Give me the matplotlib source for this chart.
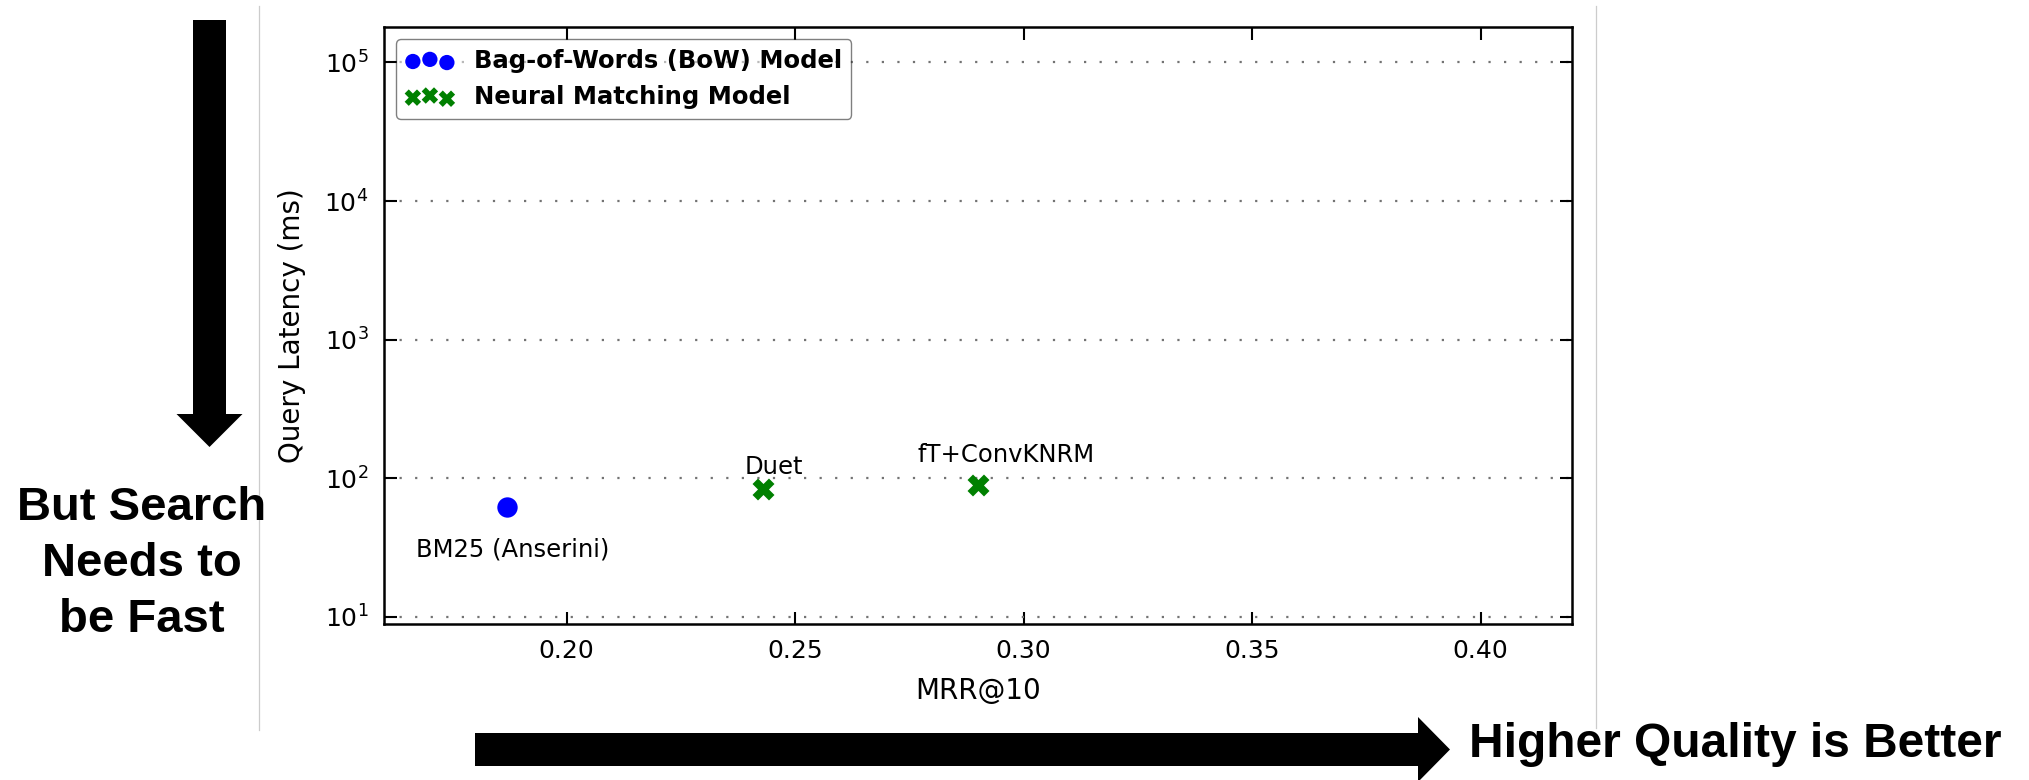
import matplotlib
matplotlib.use("Agg")
import matplotlib.pyplot as plt
from matplotlib.patches import FancyArrow
from matplotlib.ticker import NullLocator

# === Data ===
bow_label = "Bag-of-Words (BoW) Model"
bow_names = ["BM25 (Anserini)"]
bow_mrr = [0.187]
bow_latency = [62]

neural_label = "Neural Matching Model"
neural_names = ["Duet", "fT+ConvKNRM"]
neural_mrr = [0.243, 0.290]
neural_latency = [84, 90]

x_ticks = [0.20, 0.25, 0.30, 0.35, 0.40]
y_ticks = [1e1, 1e2, 1e3, 1e4, 1e5]

# label offsets (points) relative to each marker
bow_offsets = [((4, -22), "center", "top")]
neural_offsets = [((8, 11), "center", "baseline"), ((20, 16.5), "center", "baseline")]

# === Figure ===
W, H = 2029, 780
fig = plt.figure(figsize=(W / 100, H / 100), dpi=100)
ax = fig.add_axes([383.7 / W, 1 - 624 / H, (1572 - 383.7) / W, (624 - 27) / H])

ax.scatter(bow_mrr, bow_latency, s=215, c="b", marker="o", linewidths=0,
           label=bow_label, zorder=3)
ax.scatter(neural_mrr, neural_latency, s=250, c="g", marker="X", linewidths=0,
           label=neural_label, zorder=3)

for name, x, y, (off, ha, va) in zip(bow_names, bow_mrr, bow_latency, bow_offsets):
    ax.annotate(name, (x, y), xytext=off, textcoords="offset points",
                ha=ha, va=va, fontsize=17.5)
for name, x, y, (off, ha, va) in zip(neural_names, neural_mrr, neural_latency, neural_offsets):
    ax.annotate(name, (x, y), xytext=off, textcoords="offset points",
                ha=ha, va=va, fontsize=17.5)

ax.set_yscale("log")
ax.set_xlim(0.16, 0.42)
ax.set_ylim(8.9, 1.8e5)
ax.set_xticks(x_ticks)
ax.set_xticklabels([f"{t:.2f}" for t in x_ticks])
ax.set_yticks(y_ticks)
ax.yaxis.set_minor_locator(NullLocator())
ax.xaxis.set_minor_locator(NullLocator())

ax.tick_params(which="major", direction="in", length=9, width=1.5, pad=11,
               labelsize=18, top=True, right=True)
for sp in ax.spines.values():
    sp.set_linewidth(1.8)

ax.yaxis.grid(True, color="0.45", linestyle=(0, (1, 6)), linewidth=1.6)
ax.xaxis.grid(False)

ax.set_xlabel("MRR@10", fontsize=20, labelpad=10)
ax.set_ylabel("Query Latency (ms)", fontsize=20, labelpad=13)

ax.legend(loc="upper left", scatterpoints=3, scatteryoffsets=[0.375, 0.5, 0.3125],
          markerscale=0.75, framealpha=0.5, edgecolor="k", fancybox=True,
          prop={"weight": "bold", "size": 17.5})

# === Slide decorations (pixel coords, y down) ===
ov = fig.add_axes([0, 0, 1, 1], zorder=-1)
ov.set_xlim(0, W)
ov.set_ylim(H, 0)
ov.axis("off")

ov.plot([259, 259], [6, 730], color="0.8", lw=0.9)
ov.plot([1596, 1596], [6, 728], color="0.8", lw=0.9)

ov.add_patch(FancyArrow(209.5, 20, 0, 427, width=33, head_width=66, head_length=33,
                        length_includes_head=True, color="k", lw=0))
ov.add_patch(FancyArrow(475, 749.5, 975, 0, width=33, head_width=65, head_length=32,
                        length_includes_head=True, color="k", lw=0))

# multi-line text: baseline alignment refers to the last line
ov.text(142, 632, "But Search\nNeeds to\nbe Fast", ha="center", va="baseline",
        multialignment="center", family="Liberation Sans", weight="bold",
        fontsize=34, linespacing=1.35)
ov.text(1469, 757, "Higher Quality is Better", ha="left", va="baseline",
        family="Liberation Sans", weight="bold", fontsize=34.5)

fig.savefig("out.png", dpi=100)
